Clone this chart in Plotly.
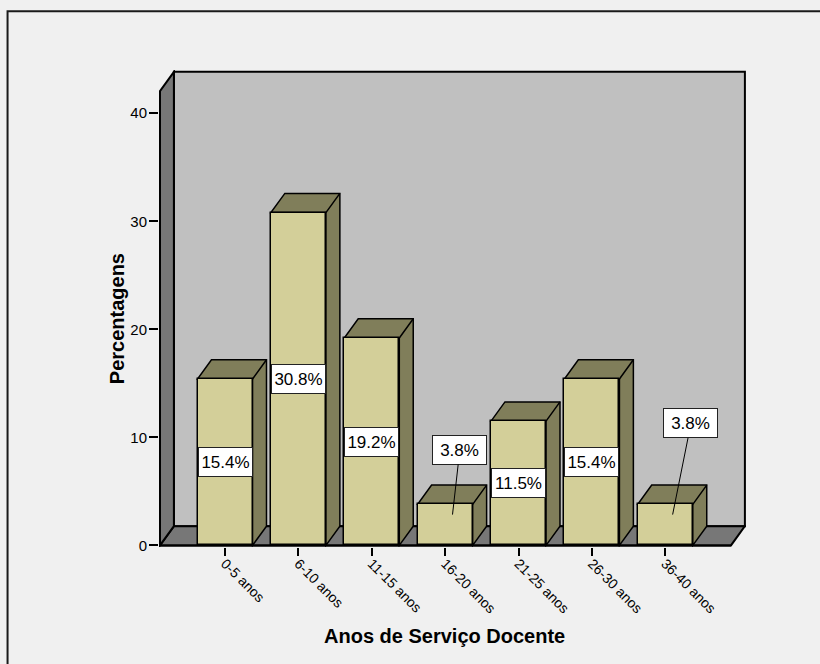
import plotly.graph_objects as go

# Years-of-service groups and their share of teachers (%)
categories = ["0-5 anos", "6-10 anos", "11-15 anos", "16-20 anos",
              "21-25 anos", "26-30 anos", "36-40 anos"]
percentages = [15.4, 30.8, 19.2, 3.8, 11.5, 15.4, 3.8]
y_ticks = [0, 10, 20, 30, 40]

# 3D box geometry (axis units)
BAR_W = 0.75
DX, DY = 0.19, 1.78          # depth offset of the back plane
X_LEFT, X_RIGHT = -0.887, 6.895
WALL_H = 42.05               # front height of the left wall

FRONT = "#d3cf99"
SIDE = "#807e5a"
WALL_DARK = "#777777"
WALL_BACK = "#c0c0c0"
BG = "#f0f0f0"
FONT = "Arial, Liberation Sans, sans-serif"

xs = list(range(len(categories)))

fig = go.Figure()
fig.add_trace(go.Bar(
    x=xs, y=percentages, width=BAR_W,
    marker=dict(color=FRONT, line=dict(color="black", width=1.5)),
    hoverinfo="skip", showlegend=False,
))

def poly(points):
    return "M " + " L ".join(f"{x},{y}" for x, y in points) + " Z"

shapes = []
# back wall
shapes.append(dict(type="path", xref="x", yref="y", layer="below",
                   path=poly([(X_LEFT + DX, DY), (X_RIGHT + DX, DY),
                              (X_RIGHT + DX, WALL_H + DY), (X_LEFT + DX, WALL_H + DY)]),
                   fillcolor=WALL_BACK, line=dict(color="black", width=2)))
# floor
shapes.append(dict(type="path", xref="x", yref="y", layer="below",
                   path=poly([(X_LEFT, 0), (X_RIGHT, 0),
                              (X_RIGHT + DX, DY), (X_LEFT + DX, DY)]),
                   fillcolor=WALL_DARK, line=dict(color="black", width=2)))
# left wall
shapes.append(dict(type="path", xref="x", yref="y", layer="below",
                   path=poly([(X_LEFT, 0), (X_LEFT + DX, DY),
                              (X_LEFT + DX, WALL_H + DY), (X_LEFT, WALL_H)]),
                   fillcolor=WALL_DARK, line=dict(color="black", width=2)))

# top and side faces of each bar
for c, v in zip(xs, percentages):
    l, r = c - BAR_W / 2, c + BAR_W / 2
    shapes.append(dict(type="path", xref="x", yref="y", layer="below",
                       path=poly([(r, 0), (r + DX, DY), (r + DX, v + DY),
                                  (l + DX, v + DY), (l, v), (r, v)]),
                       fillcolor=SIDE, line=dict(color="black", width=1.5)))
    shapes.append(dict(type="path", xref="x", yref="y", layer="below",
                       path=poly([(r, v), (r + DX, v + DY)]),
                       line=dict(color="black", width=1.5)))

# front edges of the box (axis lines)
shapes.append(dict(type="line", xref="x", yref="y", layer="above",
                   x0=X_LEFT, x1=X_RIGHT, y0=0, y1=0,
                   line=dict(color="black", width=2)))
shapes.append(dict(type="line", xref="x", yref="y", layer="above",
                   x0=X_LEFT, x1=X_LEFT, y0=0, y1=WALL_H,
                   line=dict(color="black", width=2)))
# chart frame
shapes.append(dict(type="rect", xref="paper", yref="paper", layer="above",
                   x0=-0.258, x1=1.3, y0=-0.4, y1=1.123,
                   line=dict(color="#1a1a1a", width=2)))

# value labels; short bars get a callout with a leader line
callouts = {3: (0.20, 8.85), 6: (0.35, 11.3)}
annotations = []
for c, v in zip(xs, percentages):
    text = f"{v:.1f}%"
    box = dict(text=text, font=dict(family=FONT, size=17, color="black"),
               width=49, height=24, align="center", valign="middle",
               bgcolor="white", bordercolor="#222222", borderwidth=1, borderpad=2)
    if c in callouts:
        ox, oy = callouts[c]
        annotations.append(dict(x=c + 0.10, y=v * 0.75, xref="x", yref="y",
                                ax=c + ox, ay=oy, axref="x", ayref="y",
                                showarrow=True, arrowhead=0, arrowwidth=1,
                                arrowcolor="black", standoff=0, **box))
    else:
        annotations.append(dict(x=c, y=v / 2, xref="x", yref="y",
                                showarrow=False, **box))

annotations.append(dict(text="<b>Percentagens</b>", textangle=-90,
                        x=-0.0716, y=WALL_H / 2, xref="paper", yref="y",
                        showarrow=False, xanchor="center", yanchor="middle",
                        font=dict(family=FONT, size=20, color="black")))
annotations.append(dict(text="<b>Anos de Serviço Docente</b>",
                        x=0.487, y=-0.187, xref="paper", yref="paper",
                        showarrow=False, xanchor="center", yanchor="middle",
                        font=dict(family=FONT, size=20, color="black")))

fig.update_layout(
    width=820, height=664,
    margin=dict(l=159, r=74, t=70, b=117),
    paper_bgcolor=BG, plot_bgcolor=BG,
    shapes=shapes, annotations=annotations,
    bargap=0, showlegend=False,
    xaxis=dict(range=[-0.90, 7.10], tickvals=xs, ticktext=categories,
               tickangle=45, ticks="outside", ticklen=8, tickwidth=1.5,
               tickcolor="black", showgrid=False, zeroline=False, showline=False,
               ticklabelstandoff=-6,
               tickfont=dict(family=FONT, size=14, color="black")),
    yaxis=dict(range=[-0.15, 44.0], tickvals=y_ticks, ticks="outside",
               ticklen=9, tickwidth=1.5, tickcolor="black",
               showgrid=False, zeroline=False, showline=False,
               ticklabelstandoff=-1,
               tickfont=dict(family=FONT, size=15, color="black")),
)

fig.write_html("out.html")
